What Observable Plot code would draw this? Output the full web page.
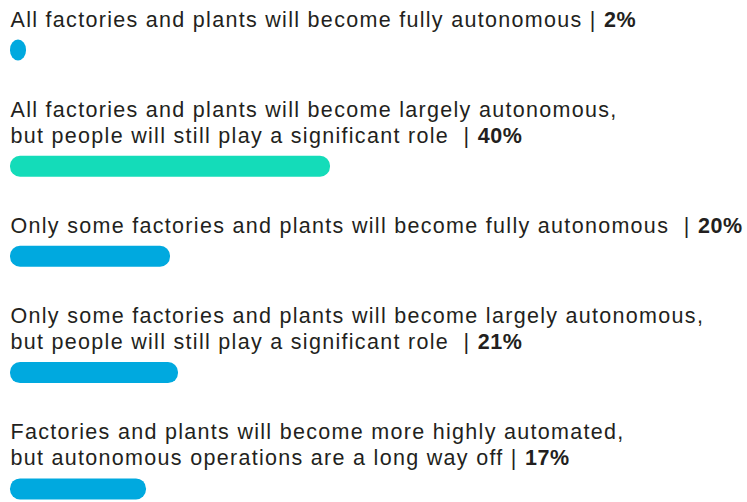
<!DOCTYPE html>
<html><head><meta charset="utf-8">
<script src="https://cdn.jsdelivr.net/npm/d3@7"></script>
<script src="https://cdn.jsdelivr.net/npm/@observablehq/plot@0.6"></script>
<style>body{margin:0;background:#fff} svg text{white-space:pre;letter-spacing:1.3px}</style>
</head><body><div id="chart"></div>
<script>
const labels = [
  "All factories and plants will become fully autonomous | ",
  "All factories and plants will become largely autonomous,\nbut people will still play a significant role  | ",
  "Only some factories and plants will become fully autonomous  | ",
  "Only some factories and plants will become largely autonomous,\nbut people will still play a significant role  | ",
  "Factories and plants will become more highly automated,\nbut autonomous operations are a long way off | "
];
const values = [2, 40, 20, 21, 17];
const valueLabels = ["2%", "40%", "20%", "21%", "17%"];

const W = 747, H = 502;
const fontSize = 21.5, lineH = 26.3, firstBase = 26, baseToBar = 24, barToNext = 66, barThick = 21;
const maxV = d3.max(values);
const rows = [];
let base = firstBase;
labels.forEach((lab, i) => {
  const n = lab.split("\n").length;
  const lastBase = base + (n - 1) * lineH;
  const barY = lastBase + baseToBar;
  rows.push({label: lab, value: values[i], pct: valueLabels[i], lastBase, barY, top: values[i] === maxV});
  base = barY + barToNext;
});

const chart = Plot.plot({
  width: W, height: H,
  margin: 0,
  x: {domain: [0, 100], range: [10, 810], axis: null},
  y: {domain: [0, H], range: [0, H], axis: null},
  style: {background: "#fff"},
  marks: [
    Plot.rect(rows, {
      x1: 0, x2: "value",
      y1: d => d.barY - barThick / 2, y2: d => d.barY + barThick / 2,
      rx: 10,
      fill: d => d.top ? "#14dcb9" : "#00a9df"
    }),
    Plot.text(rows, {
      x: 0, y: "lastBase", text: "label",
      textAnchor: "start", lineAnchor: "bottom",
      lineHeight: lineH / fontSize,
      fontSize, fontFamily: "Liberation Sans, Arial, sans-serif",
      fill: "#231f20"
    })
  ]
});
document.getElementById("chart").appendChild(chart);

// bold percentage appended to the last line of each label
const texts = chart.querySelectorAll("text");
texts.forEach((t, i) => {
  if (!rows[i]) return;
  const spans = t.querySelectorAll("tspan");
  const host = spans.length ? spans[spans.length - 1] : t;
  const b = document.createElementNS("http://www.w3.org/2000/svg", "tspan");
  b.setAttribute("font-weight", "bold");
  b.setAttribute("letter-spacing", "0.6px");
  b.textContent = rows[i].pct;
  host.appendChild(b);
});
</script>
</body></html>
